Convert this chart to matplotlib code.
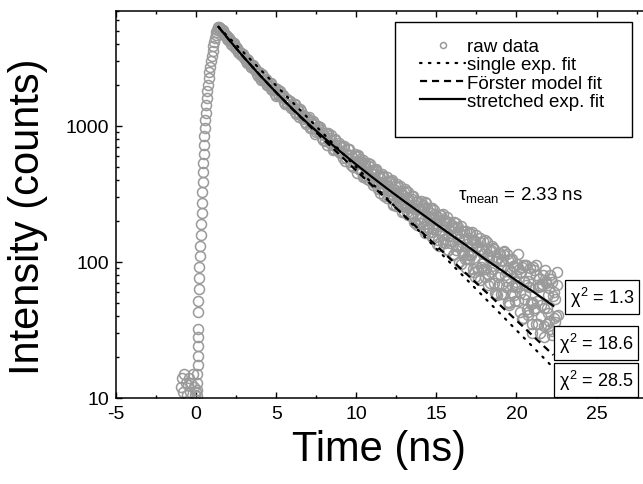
#!/usr/bin/env python3
"""Time-resolved PL decay with single-exp, Foerster and stretched-exp fits."""

import matplotlib
matplotlib.use("Agg")
import matplotlib.pyplot as plt
import numpy as np
from matplotlib.patches import Rectangle
from matplotlib.ticker import FixedLocator, LogLocator, MultipleLocator, NullFormatter

plt.rcParams["font.family"] = ["Liberation Sans", "DejaVu Sans"]
plt.rcParams["mathtext.fontset"] = "custom"
plt.rcParams["mathtext.rm"] = "Liberation Sans"
plt.rcParams["mathtext.it"] = "Liberation Sans"
plt.rcParams["axes.unicode_minus"] = False

# raw data: background before the pulse and the rising edge
rise_t = [-0.95, -0.88, -0.8, -0.74, -0.66, -0.58, -0.52, -0.44, -0.37, -0.3,
          -0.22, -0.15, -0.08, 0.02, 0.05, 0.06, 0.07, 0.08, 0.09, 0.09, 0.10,
          0.10, 0.10, 0.12, 0.14, 0.16, 0.18, 0.20, 0.23, 0.26, 0.29, 0.32,
          0.35, 0.38, 0.40, 0.42, 0.44, 0.46, 0.48, 0.50, 0.52, 0.54, 0.57,
          0.60, 0.63, 0.66, 0.70, 0.74, 0.78, 0.83, 0.88, 0.93, 0.98, 1.03,
          1.08, 1.13, 1.18, 1.23, 1.27, 1.31, 1.35, 1.38]
rise_counts = [12, 14, 11, 15, 13, 10.5, 12.5, 14, 11, 13, 15, 12, 10.5, 11,
               10.3, 11.5, 13, 15, 17.5, 20.5, 24, 28, 32, 43, 52, 63, 76, 92,
               110, 132, 158, 190, 228, 272, 325, 385, 455, 535, 625, 725, 840,
               965, 1100, 1250, 1420, 1600, 1800, 2010, 2240, 2480, 2730, 3000,
               3280, 3560, 3850, 4130, 4400, 4650, 4880, 5080, 5250, 5370]

# raw data: decay, channels every 0.1 ns starting at 1.4 ns
decay_a_t0 = 1.4
decay_dt = 0.1
decay_a_counts = [
    5346, 5270, 4900, 4980, 4630, 4610, 4290,
    4300, 3980, 4090, 3810, 3820, 3510, 3520, 3320, 3380, 3140,
    2997, 3099, 2925, 2703, 2798, 2630, 2676, 2416, 2451, 2303,
    2397, 2174, 2220, 2000, 2066, 2056, 1863, 1847, 1895, 1674,
    1712, 1821, 1652, 1694, 1488, 1577, 1445, 1537, 1392, 1421,
    1445, 1260, 1322, 1157, 1325, 1177, 1213, 1064, 1117, 1132,
    969, 1066, 1095, 954, 898, 1002, 905, 939, 792, 865,
    885, 722, 810, 852, 724, 675, 804, 691, 721, 630,
    634, 705, 549, 626, 675, 545, 608, 499, 624, 527,
    608, 479, 530, 429, 530, 468, 410, 511, 419, 470,
    380, 478, 393, 432, 323, 427, 349, 373, 419, 303,
    396, 315, 262, 360, 327, 265, 362, 266, 313, 234,
    254, 327, 274, 217, 292, 197, 264, 282, 207, 245,
    257, 173, 274, 204, 179, 248, 152, 214, 224, 172,
    144, 202, 173, 224, 148, 201, 123, 171, 186, 143,
    196, 122, 161, 100, 164, 130, 170, 105, 135, 113,
    114, 166, 89, 140, 126, 76, 140, 92, 142, 102,
    127, 68, 107, 84, 132, 70, 106, 57, 116, 81,
    69, 112, 80, 115, 51, 88, 59, 94, 66, 79,
    115, 59, 84, 39, 72, 95, 43, 66, 49, 30,
    44, 95, 52, 67, 30, 69, 46, 88, 35, 57,
    80, 31, 56, 36, 85, 41,
]

# interleaved channels, starting at 1.45 ns
decay_b_t0 = 1.45
decay_b_counts = [
    5150, 5150, 5040, 4680, 4640, 4340,
    4442, 4199, 3940, 4048, 3722, 3720, 3430, 3514, 3310, 3318,
    3172, 2914, 3039, 2872, 2699, 2812, 2577, 2591, 2348, 2472,
    2189, 2324, 2162, 2229, 1985, 2017, 2056, 1841, 1879, 1708,
    1871, 1650, 1794, 1638, 1647, 1460, 1578, 1441, 1533, 1345,
    1332, 1448, 1214, 1326, 1223, 1290, 1116, 1180, 1033, 1147,
    1167, 982, 1036, 1059, 877, 982, 898, 979, 814, 868,
    771, 867, 894, 748, 784, 671, 791, 707, 651, 754,
    703, 582, 716, 582, 619, 678, 513, 594, 543, 598,
    452, 547, 568, 470, 560, 429, 486, 447, 521, 407,
    472, 382, 483, 346, 414, 379, 431, 305, 387, 336,
    330, 392, 291, 343, 260, 373, 281, 329, 234, 327,
    344, 233, 294, 253, 306, 227, 195, 278, 246, 195,
    195, 263, 204, 270, 164, 218, 230, 165, 240, 187,
    204, 132, 220, 157, 202, 137, 214, 155, 138, 188,
    112, 180, 131, 182, 134, 183, 112, 148, 91, 150,
    163, 112, 144, 84, 159, 92, 122, 74, 125, 89,
    78, 141, 82, 121, 94, 127, 59, 102, 77, 115,
    101, 58, 118, 73, 104, 48, 84, 105, 57, 71,
    66, 89, 43, 92, 53, 95, 45, 72, 81, 35,
    92, 46, 80, 35, 67, 48, 80, 34, 70, 42,
    37, 75, 29, 60, 40, 68,
]

# extra channels in the noisy tail, starting at 10.02 ns
decay_c_t0 = 10.02
decay_c_counts = [
    556, 599, 471, 544, 422, 537, 454, 536, 402, 452,
    365, 444, 469, 391, 437, 342, 445, 348, 377, 296,
    388, 313, 400, 267, 338, 300, 356, 259, 325, 260,
    262, 334, 222, 287, 231, 304, 244, 277, 187, 251,
    281, 213, 248, 162, 249, 177, 209, 250, 176, 206,
    135, 215, 166, 222, 140, 180, 190, 123, 197, 154,
    179, 114, 195, 132, 147, 97, 168, 118, 169, 106,
    106, 163, 119, 146, 78, 132, 87, 150, 99, 115,
    145, 89, 113, 70, 123, 89, 125, 58, 107, 69,
    58, 104, 120, 65, 88, 50, 105, 67, 94, 52,
    96, 52, 83, 38, 95, 58, 68, 41, 91, 51,
    50, 88, 35, 66, 75, 40, 67, 28, 72, 46,
    64, 32, 71, 39, 53, 31,
]

# fits
single_t = [1.4, 22.3]
single_fit = [5346, 16.7]

foerster_t = [1.4, 2, 3, 4, 5, 6, 7, 8, 10, 12, 14, 16, 18, 20, 22.3]
foerster_fit = [5346, 4375, 3177, 2350, 1762, 1337, 1023, 787, 470, 282,
                170, 102, 61.7, 37.2, 20.7]

stretched_t = [1.4, 2, 3, 4, 5, 6, 7, 8, 9, 10, 11, 12, 13, 14, 15, 16, 17,
               18, 19, 20, 21, 22.3]
stretched_fit = [5346, 4375, 3177, 2350, 1762, 1340, 1038, 817, 649, 520,
                 420, 341, 279, 230, 189, 156, 129, 106, 88, 73, 61, 47.6]

chi2_labels = ["1.3", "18.6", "28.5"]
tau_mean = "2.33"


def main():
    W, H = 643, 485
    fig = plt.figure(figsize=(W / 100, H / 100), dpi=100)
    ax = fig.add_axes([116 / W, 1 - 399 / H, (W - 116) / W, (399 - 12) / H])

    ta = decay_a_t0 + decay_dt * np.arange(len(decay_a_counts))
    tb = decay_b_t0 + decay_dt * np.arange(len(decay_b_counts))
    tc = decay_c_t0 + decay_dt * np.arange(len(decay_c_counts))
    raw_t = np.concatenate([rise_t, ta, tb, tc])
    raw_c = np.concatenate([rise_counts, decay_a_counts, decay_b_counts,
                            decay_c_counts])

    gray = "#9a9a9a"
    ax.plot(raw_t, raw_c, "o", ms=7.2, mfc="none", mec=gray, mew=1.1,
            label="raw data", zorder=2)
    ax.plot(single_t, single_fit, color="black", lw=1.6,
            ls=(0, (0.7, 3.3)), dash_capstyle="round", zorder=3,
            label="single exp. fit")
    ax.plot(foerster_t, foerster_fit, color="black", lw=1.6,
            ls=(0, (3.2, 2.2)), zorder=3, label="Förster model fit")
    ax.plot(stretched_t, stretched_fit, color="black", lw=1.6, zorder=4,
            label="stretched exp. fit")

    ax.set_yscale("log")
    ax.set_xlim(-5, 27.9)
    ax.set_ylim(10, 7000)
    ax.xaxis.set_major_locator(MultipleLocator(5))
    ax.xaxis.set_minor_locator(MultipleLocator(2.5))
    ax.yaxis.set_major_locator(FixedLocator([10, 100, 1000]))
    ax.yaxis.set_minor_locator(LogLocator(base=10, subs=np.arange(2, 10)))
    ax.yaxis.set_minor_formatter(NullFormatter())
    ax.set_yticklabels(["10", "100", "1000"])

    ax.spines["right"].set_visible(False)
    for s in ("left", "bottom", "top"):
        ax.spines[s].set_linewidth(1.1)
    ax.tick_params(which="both", direction="in", top=True, right=False,
                   labelsize=14, width=1.0)
    ax.tick_params(which="major", length=4.5, pad=5)
    ax.tick_params(which="minor", length=2.5)

    ax.set_xlabel("Time (ns)", fontsize=30, labelpad=5)
    fig.text(28 / W, 1 - 217 / H, "Intensity (counts)", fontsize=30,
             rotation=90, ha="center", va="center")

    leg = ax.legend(loc="upper left", bbox_to_anchor=(420 / W, 1 - 39 / H),
                    bbox_transform=fig.transFigure, frameon=False,
                    fontsize=13.5, handlelength=2.4, handletextpad=0.1,
                    labelspacing=0.06, borderpad=0, borderaxespad=0,
                    markerscale=0.6)
    leg.set_zorder(6)
    fig.add_artist(Rectangle((395 / W, 1 - 138 / H), (632 - 395) / W,
                             (138 - 23) / H, transform=fig.transFigure,
                             fill=False, edgecolor="black", lw=1.0))

    fig.text(458 / W, 1 - 195 / H, r"$\tau_{\mathrm{mean}}$ = " + tau_mean + " ns",
             fontsize=13.5, ha="left", va="center")

    box = dict(boxstyle="square,pad=0.25", fc="white", ec="black", lw=0.9)
    for label, (cx, cy) in zip(chi2_labels, [(602, 298), (596, 344), (596, 381)]):
        fig.text(cx / W, 1 - cy / H, r"$\chi^2$ = " + label, fontsize=13,
                 ha="center", va="center", bbox=box, zorder=7)

    fig.savefig("out.png", dpi=100)
    plt.close(fig)


if __name__ == "__main__":
    main()
